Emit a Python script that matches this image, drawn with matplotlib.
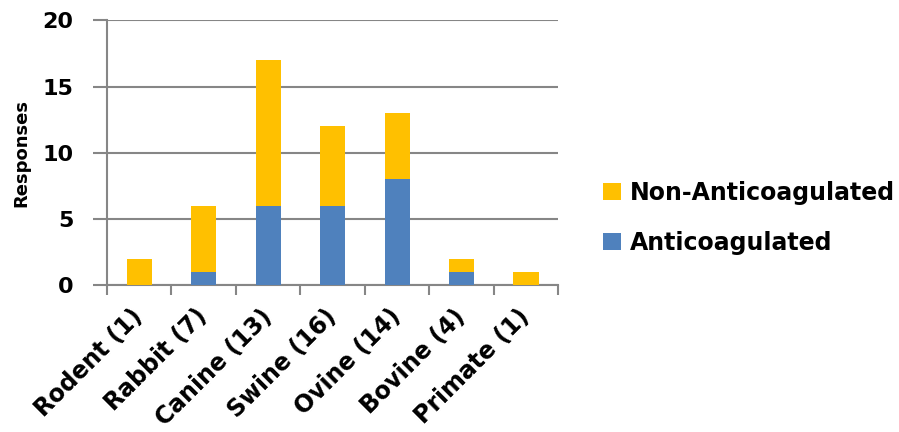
import numpy as np
import matplotlib.pyplot as plt

categories = ["Rodent (1)", "Rabbit (7)", "Canine (13)", "Swine (16)",
              "Ovine (14)", "Bovine (4)", "Primate (1)"]
anticoagulated = [0, 1, 6, 6, 8, 1, 0]
non_anticoagulated = [2, 5, 11, 6, 5, 1, 1]
y_ticks = [0, 5, 10, 15, 20]

plt.rcParams['font.family'] = ['DejaVu Sans']
plt.rcParams['font.weight'] = 'bold'

grey = '#868686'
blue = '#4F81BD'
gold = '#FFC000'

fig = plt.figure(figsize=(8.99, 4.32), dpi=100)
ax = fig.add_axes([0.119, 0.340, 0.502, 0.613])

x = np.arange(len(categories))
w = 0.39
b1 = ax.bar(x, anticoagulated, w, color=blue, label='Anticoagulated', zorder=3)
b2 = ax.bar(x, non_anticoagulated, w, bottom=anticoagulated, color=gold,
            label='Non-Anticoagulated', zorder=3)

ax.set_xlim(-0.5, len(categories) - 0.5)
ax.set_ylim(0, 20)
ax.set_yticks(y_ticks)
ax.yaxis.grid(True, color=grey, linewidth=1.5, zorder=0)
ax.set_axisbelow(True)

for s in ['top', 'right']:
    ax.spines[s].set_visible(False)
for s in ['left', 'bottom']:
    ax.spines[s].set_color(grey)
    ax.spines[s].set_linewidth(1.5)

ax.tick_params(axis='y', length=10, width=1.5, color=grey, labelsize=16, pad=14)
ax.set_xticks(x)
ax.set_xticklabels(categories, rotation=45, ha='right', va='center',
                   rotation_mode='anchor', fontsize=17, fontweight='bold')
ax.tick_params(axis='x', which='major', length=0, pad=20)
# short ticks between the categories
ax.set_xticks(np.arange(-0.5, len(categories), 1.0), minor=True)
ax.tick_params(axis='x', which='minor', length=7, width=1.5, color=grey)

ax.set_ylabel('Responses', fontsize=13, fontweight='bold', labelpad=9)

fig.legend(handles=[b2, b1], loc='upper left', bbox_to_anchor=(0.6707, 0.581),
           bbox_transform=fig.transFigure, frameon=False,
           handlelength=0.76, handleheight=0.73, labelspacing=1.08,
           handletextpad=0.38, borderpad=0, borderaxespad=0,
           prop={'weight': 'bold', 'size': 17})

fig.savefig('out.png', dpi=100)
